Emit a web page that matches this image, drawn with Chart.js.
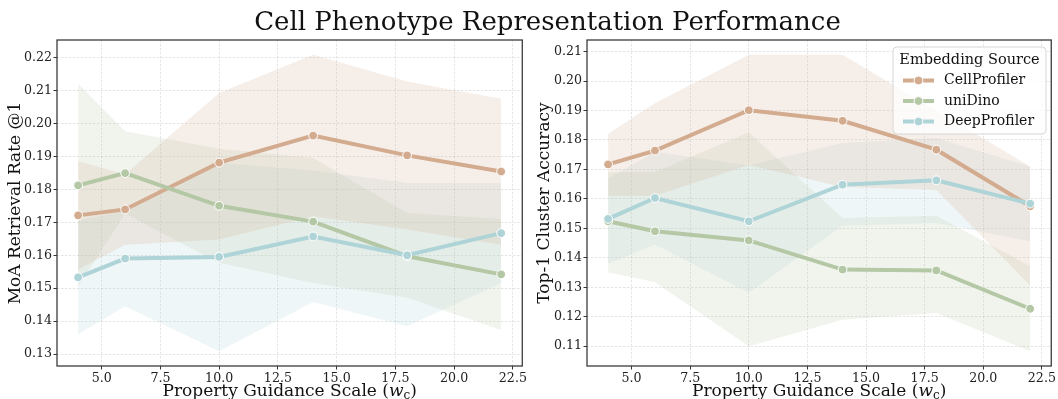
<!DOCTYPE html>
<html lang="en">
<head>
<meta charset="UTF-8">
<title>Cell Phenotype Representation Performance</title>
<script src="https://cdn.jsdelivr.net/npm/chart.js@4.4.1/dist/chart.umd.min.js"></script>
<style>
  body{margin:0;background:#fff;}
  #wrap{position:relative;width:1058px;height:399px;overflow:hidden;font-family:"DejaVu Serif",serif;}
  #title{position:absolute;left:0;width:1095px;top:8px;text-align:center;font-size:26px;line-height:26px;color:#111;}
  canvas{position:absolute;top:0;}
</style>
</head>
<body>
<div id="wrap">
  <canvas id="leftChart" width="529" height="399" style="left:0"></canvas>
  <canvas id="rightChart" width="529" height="399" style="left:529px"></canvas>
  <div id="title">Cell Phenotype Representation Performance</div>
</div>
<script>
// guidance scales (x) and series names
const guidance = [4, 6, 10, 14, 18, 22];
const seriesNames = ['CellProfiler', 'uniDino', 'DeepProfiler'];
const lineColors = ['#d3ab8f', '#b5c8a6', '#afd4d7'];

const xTicks = [5, 7.5, 10, 12.5, 15, 17.5, 20, 22.5];
const leftYTicks = [0.13, 0.14, 0.15, 0.16, 0.17, 0.18, 0.19, 0.20, 0.21, 0.22];
const rightYTicks = [0.11, 0.12, 0.13, 0.14, 0.15, 0.16, 0.17, 0.18, 0.19, 0.20, 0.21];

// MoA retrieval rate @1 (left)
const moaCell = [0.1721, 0.1739, 0.1881, 0.1963, 0.1903, 0.1854];
const moaCellLo = [0.1557, 0.1632, 0.1648, 0.1718, 0.1678, 0.1632];
const moaCellHi = [0.1885, 0.1846, 0.2092, 0.2208, 0.2127, 0.2075];
const moaDino = [0.1812, 0.1849, 0.1750, 0.1702, 0.1597, 0.1542];
const moaDinoLo = [0.1506, 0.1726, 0.1577, 0.1516, 0.1471, 0.1373];
const moaDinoHi = [0.2120, 0.1976, 0.1923, 0.1895, 0.1728, 0.1710];
const moaDeep = [0.1533, 0.1590, 0.1595, 0.1657, 0.1600, 0.1667];
const moaDeepLo = [0.1360, 0.1445, 0.1309, 0.1458, 0.1385, 0.1516];
const moaDeepHi = [0.1705, 0.1735, 0.1880, 0.1857, 0.1819, 0.1819];

// Top-1 cluster accuracy (right)
const accCell = [0.1717, 0.1764, 0.1901, 0.1865, 0.1767, 0.1575];
const accCellLo = [0.1611, 0.1611, 0.1715, 0.1640, 0.1630, 0.1306];
const accCellHi = [0.1821, 0.1925, 0.2089, 0.2089, 0.1900, 0.1710];
const accDino = [0.1524, 0.1490, 0.1459, 0.1360, 0.1357, 0.1227];
const accDinoLo = [0.1351, 0.1317, 0.1100, 0.1190, 0.1213, 0.1083];
const accDinoHi = [0.1690, 0.1691, 0.1825, 0.1535, 0.1543, 0.1371];
const accDeep = [0.1532, 0.1603, 0.1524, 0.1648, 0.1663, 0.1584];
const accDeepLo = [0.1380, 0.1445, 0.1281, 0.1509, 0.1518, 0.1456];
const accDeepHi = [0.1669, 0.1760, 0.1713, 0.1790, 0.1806, 0.1710];

const FONT = '"DejaVu Serif", serif';

function rgba(hex, a) {
    const n = parseInt(hex.slice(1), 16);
    return 'rgba(' + (n >> 16) + ',' + ((n >> 8) & 255) + ',' + (n & 255) + ',' + a + ')';
}

function pts(vals) {
    return guidance.map((x, j) => ({x: x, y: vals[j]}));
}

function buildDatasets(means, lows, highs) {
    const sets = [];
    means.forEach((m, i) => {
        sets.push({
            label: seriesNames[i],
            data: pts(m),
            borderColor: lineColors[i],
            backgroundColor: lineColors[i],
            borderWidth: 4,
            pointRadius: 4.4,
            pointBackgroundColor: lineColors[i],
            pointBorderColor: '#fff',
            pointBorderWidth: 1,
            fill: false,
            order: 2 - i
        });
    });
    means.forEach((m, i) => {
        sets.push({
            label: '',
            data: pts(highs[i]),
            borderColor: 'transparent',
            borderWidth: 0,
            pointRadius: 0,
            backgroundColor: rgba(lineColors[i], 0.2),
            fill: '+1',
            order: 10 + i
        });
        sets.push({
            label: '',
            data: pts(lows[i]),
            borderColor: 'transparent',
            borderWidth: 0,
            pointRadius: 0,
            fill: false,
            order: 10 + i
        });
    });
    return sets;
}

// matplotlib-like 5% margins
function margins(lists) {
    const all = [].concat(...lists);
    const lo = Math.min(...all), hi = Math.max(...all);
    const pad = (hi - lo) * 0.05;
    return [lo - pad, hi + pad];
}

const framePlugin = {
    id: 'frame',
    afterDatasetsDraw(chart) {
        const ctx = chart.ctx, a = chart.chartArea;
        ctx.save();
        ctx.strokeStyle = '#333';
        ctx.lineWidth = 1.25;
        ctx.strokeRect(a.left, a.top, a.right - a.left, a.bottom - a.top);
        ctx.restore();
    },
    afterDraw(chart) {
        // x title with italic w and subscript c
        const ctx = chart.ctx, a = chart.chartArea;
        const main = '17px ' + FONT, ital = 'italic 17px ' + FONT, sub = '12px ' + FONT;
        const parts = [['Property Guidance Scale (', main, 0], ['w', ital, 0], ['c', sub, 3], [')', main, 0]];
        ctx.save();
        ctx.fillStyle = '#111';
        ctx.textBaseline = 'alphabetic';
        let total = 0;
        parts.forEach(p => { ctx.font = p[1]; total += ctx.measureText(p[0]).width; });
        let x = (a.left + a.right) / 2 - total / 2;
        parts.forEach(p => {
            ctx.font = p[1];
            ctx.fillText(p[0], x, 396 + p[2]);
            x += ctx.measureText(p[0]).width;
        });
        ctx.restore();
    }
};

const legendPlugin = {
    id: 'boxLegend',
    afterDraw(chart) {
        const ctx = chart.ctx;
        const bx = 364, by = 47, bw = 153, bh = 87;
        ctx.save();
        ctx.beginPath();
        ctx.roundRect(bx, by, bw, bh, 4);
        ctx.fillStyle = 'rgba(255,255,255,0.8)';
        ctx.fill();
        ctx.strokeStyle = '#d6d6d6';
        ctx.lineWidth = 1;
        ctx.stroke();
        ctx.fillStyle = '#111';
        ctx.textBaseline = 'middle';
        ctx.textAlign = 'center';
        ctx.font = '14.5px ' + FONT;
        ctx.fillText('Embedding Source', bx + bw / 2, 60);
        ctx.textAlign = 'left';
        ctx.font = '14px ' + FONT;
        seriesNames.forEach((name, i) => {
            const y = 80.5 + i * 20.5;
            const c = chart.data.datasets[i].borderColor;
            ctx.strokeStyle = c;
            ctx.lineWidth = 4;
            ctx.beginPath();
            ctx.moveTo(374, y);
            ctx.lineTo(405, y);
            ctx.stroke();
            ctx.beginPath();
            ctx.arc(389.5, y, 4.4, 0, Math.PI * 2);
            ctx.fillStyle = c;
            ctx.fill();
            ctx.strokeStyle = '#fff';
            ctx.lineWidth = 1;
            ctx.stroke();
            ctx.fillStyle = '#111';
            ctx.fillText(name, 415, y);
        });
        ctx.restore();
    }
};

function makeChart(id, yTitle, yTicks, means, lows, highs, yWidth, extraPlugins) {
    const xr = margins([guidance]);
    const yr = margins([].concat(lows, highs, means));
    const cfg = {
        type: 'line',
        data: {datasets: buildDatasets(means, lows, highs)},
        options: {
            responsive: false,
            animation: false,
            events: [],
            layout: {padding: {left: 0, right: 5, top: 40, bottom: 0}},
            plugins: {legend: {display: false}, tooltip: {enabled: false}},
            elements: {line: {tension: 0}},
            scales: {
                x: {
                    type: 'linear',
                    min: xr[0],
                    max: xr[1],
                    afterBuildTicks: s => { s.ticks = xTicks.map(v => ({value: v})); },
                    afterFit: s => { s.height = 33; },
                    ticks: {
                        callback: v => v.toFixed(1),
                        font: {family: FONT, size: 12.6},
                        color: '#222',
                        padding: 2,
                        maxRotation: 0,
                        autoSkip: false
                    },
                    grid: {color: 'rgba(0,0,0,0.13)', lineWidth: 0.8, tickLength: 3.5, tickColor: '#333', tickWidth: 1},
                    border: {display: false, dash: [2.5, 1.5]}
                },
                y: {
                    type: 'linear',
                    min: yr[0],
                    max: yr[1],
                    afterBuildTicks: s => { s.ticks = yTicks.map(v => ({value: v})); },
                    afterFit: s => { s.width = yWidth; },
                    ticks: {
                        callback: v => v.toFixed(2),
                        font: {family: FONT, size: 12.6},
                        color: '#222',
                        padding: 1.5
                    },
                    grid: {color: 'rgba(0,0,0,0.13)', lineWidth: 0.8, tickLength: 3.5, tickColor: '#333', tickWidth: 1},
                    border: {display: false, dash: [2.5, 1.5]},
                    title: {
                        display: true,
                        text: yTitle,
                        font: {family: FONT, size: 17},
                        color: '#111',
                        padding: {top: 5, bottom: 0}
                    }
                }
            }
        },
        plugins: [framePlugin].concat(extraPlugins)
    };
    return new Chart(document.getElementById(id).getContext('2d'), cfg);
}

makeChart('leftChart', 'MoA Retrieval Rate @1', leftYTicks,
    [moaCell, moaDino, moaDeep], [moaCellLo, moaDinoLo, moaDeepLo], [moaCellHi, moaDinoHi, moaDeepHi], 57, []);
makeChart('rightChart', 'Top-1 Cluster Accuracy', rightYTicks,
    [accCell, accDino, accDeep], [accCellLo, accDinoLo, accDeepLo], [accCellHi, accDinoHi, accDeepHi], 58, [legendPlugin]);
</script>
</body>
</html>
